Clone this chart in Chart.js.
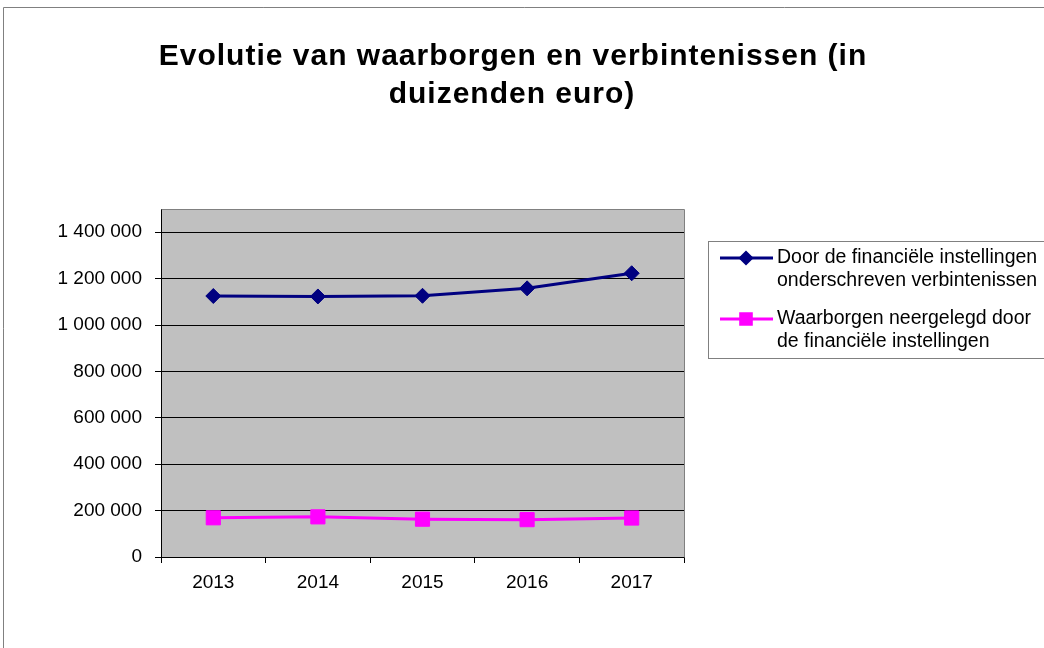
<!DOCTYPE html>
<html>
<head>
<meta charset="utf-8">
<script src="https://cdn.jsdelivr.net/npm/chart.js@4"></script>
<style>
  html, body { margin: 0; padding: 0; background: #fff; }
  #wrap { position: relative; width: 1044px; height: 648px; }
</style>
</head>
<body>
<div id="wrap"><canvas id="c" width="1044" height="648"></canvas></div>
<script>
const titleLines = ['Evolutie van waarborgen en verbintenissen (in', 'duizenden euro)'];
const categories = ['2013', '2014', '2015', '2016', '2017'];
const seriesNames = [
  ['Door de financiële instellingen', 'onderschreven verbintenissen'],
  ['Waarborgen neergelegd door', 'de financiële instellingen']
];
const verbintenissen = [1125000, 1123000, 1126000, 1158000, 1223000];
const waarborgen = [169000, 173000, 163000, 161000, 168000];
const yTickValues = [0, 200000, 400000, 600000, 800000, 1000000, 1200000, 1400000];
const yMax = 1500000;

const FONT = 'Arial, "Liberation Sans", sans-serif';
const colors = ['#000080', '#FF00FF'];
const styles = ['rectRot', 'rect'];

function fmt(v) {
  return String(v).replace(/\B(?=(\d{3})+(?!\d))/g, ' ');
}

const decor = {
  id: 'decor',
  beforeDraw(chart) {
    const ctx = chart.ctx, a = chart.chartArea;
    ctx.save();
    ctx.fillStyle = '#fff';
    ctx.fillRect(0, 0, chart.width, chart.height);
    ctx.strokeStyle = '#808080';
    ctx.lineWidth = 1;
    ctx.beginPath();
    ctx.moveTo(3.5, chart.height + 5);
    ctx.lineTo(3.5, 7.5);
    ctx.lineTo(chart.width + 5, 7.5);
    ctx.stroke();
    ctx.fillStyle = '#C0C0C0';
    ctx.fillRect(a.left, a.top, a.right - a.left, a.bottom - a.top);
    ctx.restore();
  },
  afterDraw(chart) {
    const ctx = chart.ctx, a = chart.chartArea;
    ctx.save();
    ctx.strokeStyle = '#808080';
    ctx.lineWidth = 1;
    ctx.beginPath();
    ctx.moveTo(Math.round(a.left) + 0.5, Math.round(a.top) + 0.5);
    ctx.lineTo(Math.round(a.right) + 0.5, Math.round(a.top) + 0.5);
    ctx.lineTo(Math.round(a.right) + 0.5, Math.round(a.bottom) + 0.5);
    ctx.stroke();

    // title
    ctx.fillStyle = '#000';
    ctx.font = 'bold 30px ' + FONT;
    try { ctx.letterSpacing = '1px'; } catch (e) {}
    ctx.textAlign = 'center';
    ctx.textBaseline = 'alphabetic';
    ctx.fillText(titleLines[0], 513, 65);
    ctx.fillText(titleLines[1], 512, 103);
    try { ctx.letterSpacing = '0px'; } catch (e) {}

    // legend
    ctx.strokeStyle = '#808080';
    ctx.lineWidth = 1;
    ctx.strokeRect(708.5, 241.5, 400, 117);
    const itemY = [258, 319];
    ctx.font = '19.5px ' + FONT;
    ctx.textAlign = 'left';
    ctx.textBaseline = 'middle';
    chart.data.datasets.forEach((ds, i) => {
      const y = itemY[i];
      ctx.strokeStyle = ds.borderColor;
      ctx.lineWidth = 3;
      ctx.beginPath();
      ctx.moveTo(720, y);
      ctx.lineTo(773, y);
      ctx.stroke();
      Chart.helpers.drawPoint(ctx, {
        pointStyle: ds.pointStyle, radius: i === 0 ? 5.5 : 7.5, rotation: 0,
        borderWidth: 1
      }, 746, y);
      ctx.fillStyle = ds.backgroundColor;
      ctx.fill();
      ctx.fillStyle = '#000';
      const lines = seriesNames[i];
      ctx.fillText(lines[0], 777, y);
      ctx.fillText(lines[1], 777, y + 23);
    });
    ctx.restore();
  }
};

new Chart(document.getElementById('c'), {
  type: 'line',
  data: {
    labels: categories,
    datasets: [
      {
        label: seriesNames[0].join(' '),
        data: verbintenissen,
        borderColor: colors[0], backgroundColor: colors[0],
        borderWidth: 3, pointStyle: styles[0], pointRadius: 7.5, pointHoverRadius: 7.5,
        pointBorderWidth: 1, tension: 0
      },
      {
        label: seriesNames[1].join(' '),
        data: waarborgen,
        borderColor: colors[1], backgroundColor: colors[1],
        borderWidth: 3, pointStyle: styles[1], pointRadius: 10, pointHoverRadius: 10,
        pointBorderWidth: 1, tension: 0
      }
    ]
  },
  options: {
    responsive: false,
    animation: false,
    devicePixelRatio: 1,
    layout: { padding: { top: 209, left: 0, right: 360, bottom: 51 } },
    plugins: { legend: { display: false }, title: { display: false }, tooltip: { enabled: false } },
    scales: {
      x: {
        offset: true,
        grid: { offset: true, drawOnChartArea: false, drawTicks: true, tickLength: 6, color: '#000' },
        border: { display: true, color: '#000', width: 1 },
        ticks: { color: '#000', font: { family: FONT, size: 19 }, padding: 8, maxRotation: 0 },
        afterFit(s) { s.height = 40; }
      },
      y: {
        min: 0, max: yMax,
        afterBuildTicks(s) { s.ticks = yTickValues.map(v => ({ value: v })); },
        grid: { color: '#000', drawTicks: true, tickLength: 6, lineWidth: 1 },
        border: { display: true, color: '#000', width: 1 },
        ticks: { color: '#000', font: { family: FONT, size: 19 }, padding: 13, callback: v => fmt(v) },
        afterFit(s) { s.width = 161; }
      }
    }
  },
  plugins: [decor]
});
</script>
</body>
</html>
